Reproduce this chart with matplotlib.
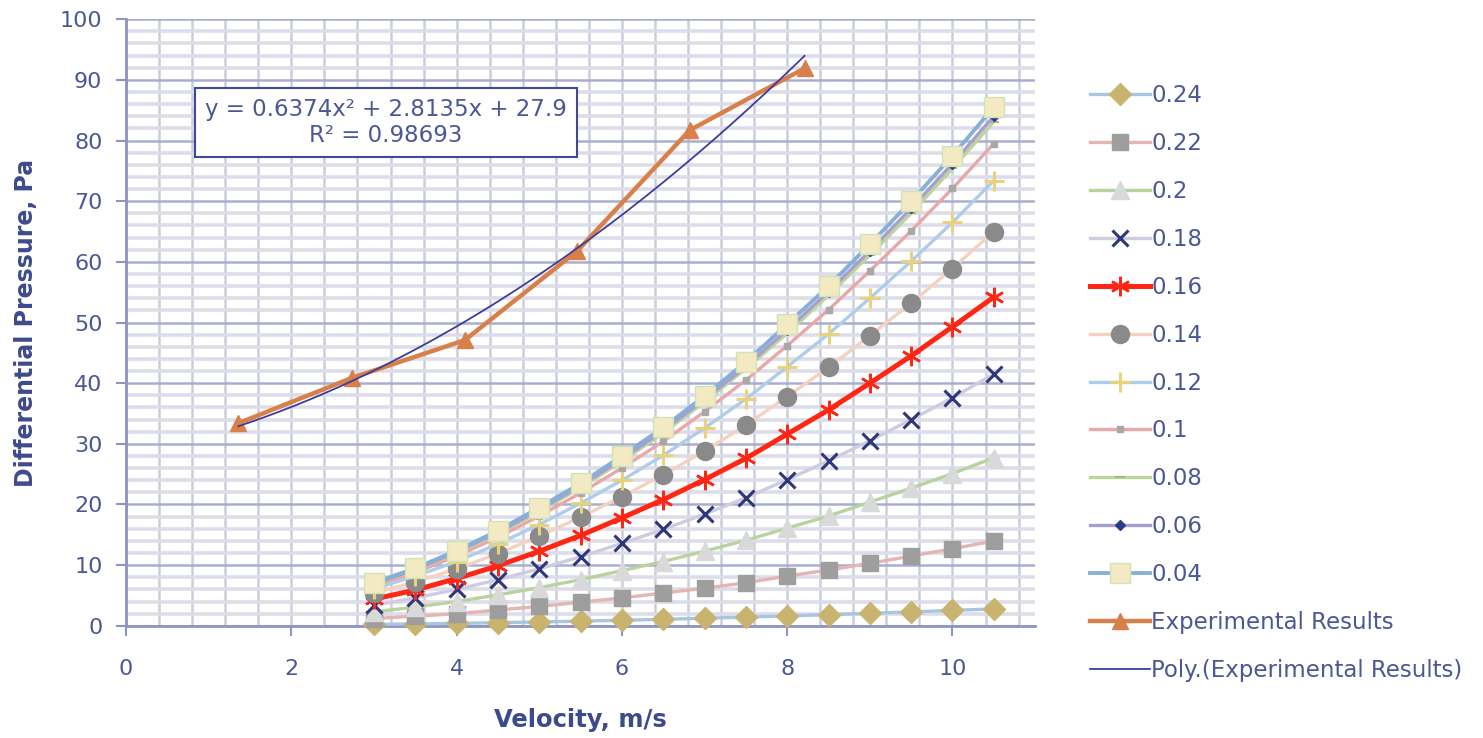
import numpy as np
import matplotlib.pyplot as plt
from matplotlib.ticker import MultipleLocator


# Velocity points shared by every gap-ratio series (m/s)
velocity = [3.0, 3.5, 4.0, 4.5, 5.0, 5.5, 6.0, 6.5,
            7.0, 7.5, 8.0, 8.5, 9.0, 9.5, 10.0, 10.5]

# Differential pressure (Pa), one list per series
dp_024 = [0.23, 0.31, 0.41, 0.52, 0.64, 0.77, 0.92, 1.07,
          1.25, 1.43, 1.63, 1.84, 2.06, 2.30, 2.54, 2.80]
dp_022 = [1.2, 1.6, 2.0, 2.6, 3.2, 3.9, 4.6, 5.4,
          6.2, 7.1, 8.2, 9.2, 10.3, 11.5, 12.7, 14.0]
dp_020 = [2.3, 3.1, 4.0, 5.1, 6.3, 7.6, 9.1, 10.6,
          12.3, 14.1, 16.1, 18.1, 20.4, 22.7, 25.1, 27.7]
dp_018 = [3.4, 4.6, 6.0, 7.6, 9.4, 11.4, 13.6, 15.9,
          18.4, 21.1, 24.1, 27.2, 30.5, 34.0, 37.6, 41.5]
dp_016 = [4.4, 5.9, 7.8, 9.9, 12.3, 14.9, 17.8, 20.8,
          24.1, 27.6, 31.6, 35.6, 40.0, 44.5, 49.3, 54.2]
dp_014 = [5.4, 7.2, 9.4, 11.9, 14.8, 17.9, 21.3, 24.9,
          28.8, 33.1, 37.8, 42.6, 47.8, 53.2, 58.9, 65.0]
dp_012 = [6.1, 8.2, 10.6, 13.5, 16.7, 20.2, 24.0, 28.1,
          32.6, 37.4, 42.7, 48.1, 54.0, 60.1, 66.5, 73.4]
dp_010 = [6.6, 8.8, 11.5, 14.6, 18.1, 21.9, 26.0, 30.4,
          35.3, 40.5, 46.2, 52.1, 58.5, 65.1, 72.1, 79.5]
dp_008 = [6.8, 9.2, 12.0, 15.2, 18.8, 22.8, 27.1, 31.8,
          36.9, 42.4, 48.2, 54.5, 61.1, 68.0, 75.4, 83.1]
dp_006 = [6.9, 9.3, 12.2, 15.4, 19.1, 23.1, 27.5, 32.2,
          37.3, 42.8, 48.8, 55.1, 61.8, 68.8, 76.2, 84.0]
dp_004 = [7.1, 9.5, 12.4, 15.7, 19.5, 23.5, 28.0, 32.7,
          37.9, 43.5, 49.7, 56.0, 62.9, 70.0, 77.5, 85.5]

series_labels = ['0.24', '0.22', '0.2', '0.18', '0.16', '0.14',
                 '0.12', '0.1', '0.08', '0.06', '0.04']
series_values = [dp_024, dp_022, dp_020, dp_018, dp_016, dp_014,
                 dp_012, dp_010, dp_008, dp_006, dp_004]

# Experimental results
exp_velocity = [1.36, 2.74, 4.10, 5.46, 6.82, 8.21]
exp_pressure = [33.4, 40.9, 47.1, 61.8, 81.7, 91.9]

# Trendline as reported on the chart
poly_coef = [0.6374, 2.8135, 27.9]
r_squared = 0.98693

TEXT_COLOR = '#4c5796'
LABEL_COLOR = '#3d4a8c'

# line colour, marker, marker colour, marker size, line width, marker edge width
series_styles = [
    ('#a9c6e0', 'D', '#c8b46e', 11, 2.4, 1.0),
    ('#e3b5b3', 's', '#9e9e9e', 12, 2.4, 1.0),
    ('#b9d39f', '^', '#d9d9d9', 13, 2.4, 1.0),
    ('#cfcbe0', 'x', '#2f3778', 12, 2.4, 2.2),
    ('#ff2613', (6, 2, 0), '#ff2613', 14, 3.6, 1.8),
    ('#f5d2bf', 'o', '#8a8a8a', 13, 2.4, 1.0),
    ('#aecdea', '+', '#e8d37c', 14, 2.4, 2.2),
    ('#e8a8a8', 's', '#a8a8a8', 5, 2.4, 1.0),
    ('#bcd59a', '_', '#9fb888', 7, 2.4, 1.5),
    ('#a99ed0', 'D', '#2e3b87', 5, 2.4, 1.0),
    ('#86b0da', 's', '#f3e9c3', 14, 2.8, 1.0),
]


def main():
    fig = plt.figure(figsize=(14.83, 7.38), dpi=100)
    ax = fig.add_axes([0.085, 0.152, 0.613, 0.822])

    for label, values, style in zip(series_labels, series_values, series_styles):
        line_color, marker, marker_color, msize, lw, mew = style
        edge = '#cfe3b8' if label == '0.04' else marker_color
        ax.plot(velocity, values, color=line_color, linewidth=lw,
                marker=marker, markersize=msize, markerfacecolor=marker_color,
                markeredgecolor=edge, markeredgewidth=mew,
                label=label, clip_on=False, zorder=3)

    ax.plot(exp_velocity, exp_pressure, color='#d9804a', linewidth=3.2,
            marker='^', markersize=12, markerfacecolor='#d9804a',
            markeredgecolor='#d9804a', label='Experimental Results',
            clip_on=False, zorder=4)

    # Polynomial trendline over the experimental range
    fit_x = np.linspace(exp_velocity[0], exp_velocity[-1], 200)
    fit_y = np.polyval(poly_coef, fit_x)
    ax.plot(fit_x, fit_y, color='#3d3d9a', linewidth=1.3,
            label='Poly.(Experimental Results)', clip_on=False, zorder=5)

    eq_text = (f"y = {poly_coef[0]}x\u00b2 + {poly_coef[1]}x + {poly_coef[2]}\n"
               f"R\u00b2 = {r_squared}")
    ax.text(0.286, 0.830, eq_text, transform=ax.transAxes, ha='center',
            va='center', fontsize=16.5, color=TEXT_COLOR, linespacing=1.2,
            zorder=6,
            bbox=dict(boxstyle='square,pad=0.42', facecolor='white',
                      edgecolor='#3e4a96', linewidth=1.5))

    # Axes and grid
    ax.set_xlim(0, 11)
    ax.set_ylim(0, 100)
    ax.xaxis.set_major_locator(MultipleLocator(2))
    ax.xaxis.set_minor_locator(MultipleLocator(0.4))
    ax.yaxis.set_major_locator(MultipleLocator(10))
    ax.yaxis.set_minor_locator(MultipleLocator(2))
    ax.grid(which='major', axis='y', color='#a9aed0', linewidth=1.8, zorder=0)
    ax.grid(which='minor', axis='y', color='#dcdde8', linewidth=2.6, zorder=0)
    ax.grid(which='both', axis='x', color='#cbcddd', linewidth=1.8, zorder=0)
    ax.set_axisbelow(True)

    for side in ('top', 'right'):
        ax.spines[side].set_visible(False)
    for side in ('left', 'bottom'):
        ax.spines[side].set_color('#8d94c2')
        ax.spines[side].set_linewidth(2)

    ax.tick_params(which='major', direction='out', length=7, width=1.5,
                   color='#8d94c2', labelcolor=TEXT_COLOR, labelsize=16)
    ax.tick_params(which='minor', length=0)
    ax.tick_params(axis='x', pad=17)
    ax.tick_params(axis='y', pad=10)

    ax.set_xlabel('Velocity, m/s', fontsize=17.5, fontweight='bold',
                  color=LABEL_COLOR, labelpad=21)
    ax.set_ylabel('Differential Pressure, Pa', fontsize=17, fontweight='bold',
                  color=LABEL_COLOR, labelpad=16)

    handles, labels = ax.get_legend_handles_labels()
    leg = fig.legend(handles, labels, loc='upper left',
                     bbox_to_anchor=(0.729, 0.898), frameon=False,
                     fontsize=16.5, handlelength=2.6, handletextpad=0.05,
                     labelspacing=1.085, numpoints=1, borderaxespad=0)
    for txt in leg.get_texts():
        txt.set_color(TEXT_COLOR)

    fig.savefig('out.png', dpi=100)


if __name__ == '__main__':
    main()
